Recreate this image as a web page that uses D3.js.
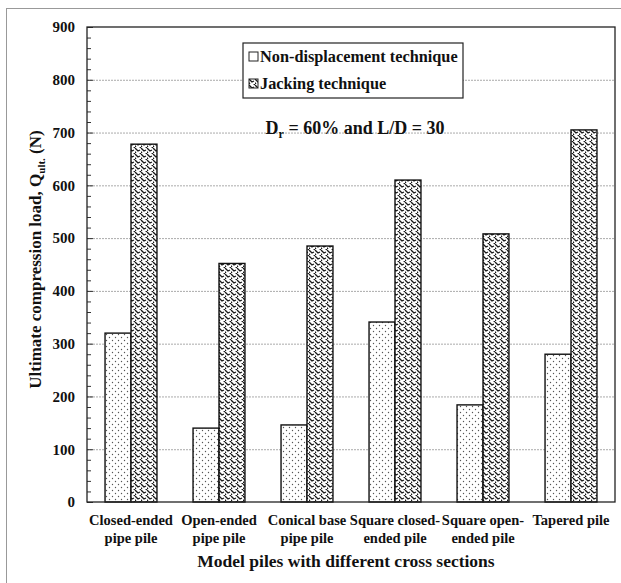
<!DOCTYPE html>
<html>
<head>
<meta charset="utf-8">
<script src="https://cdn.jsdelivr.net/npm/d3@7"></script>
<style>
  body { margin: 0; background: #fff; }
  text { font-family: "Liberation Serif", "Times New Roman", serif; font-weight: bold; fill: #111; }
</style>
</head>
<body>
<div id="chart"></div>
<script>
// Data
const categories = [
  ['Closed-ended', 'pipe pile'],
  ['Open-ended', 'pipe pile'],
  ['Conical base', 'pipe pile'],
  ['Square closed-', 'ended pile'],
  ['Square open-', 'ended pile'],
  ['Tapered pile']
];
const seriesNames = ['Non-displacement technique', 'Jacking technique'];
const nonDisplacement = [320, 140, 146, 341, 184, 280];
const jacking = [678, 452, 485, 610, 508, 705];
const yTicks = [0, 100, 200, 300, 400, 500, 600, 700, 800, 900];

const width = 621, height = 583;
const margin = { top: 27, right: 6, bottom: 81, left: 87 };
const plotW = width - margin.left - margin.right;
const plotH = height - margin.top - margin.bottom;

const svg = d3.select('#chart').append('svg')
  .attr('width', width)
  .attr('height', height);

// patterns
const defs = svg.append('defs');
const dots = defs.append('pattern')
  .attr('id', 'dots')
  .attr('patternUnits', 'userSpaceOnUse')
  .attr('width', 6).attr('height', 6);
dots.append('rect').attr('width', 6).attr('height', 6).attr('fill', '#fff');
dots.append('circle').attr('cx', 1.5).attr('cy', 1.5).attr('r', 0.7).attr('fill', '#555');
dots.append('circle').attr('cx', 4.5).attr('cy', 4.5).attr('r', 0.7).attr('fill', '#555');

const weave = defs.append('pattern')
  .attr('id', 'weave')
  .attr('patternUnits', 'userSpaceOnUse')
  .attr('width', 6).attr('height', 6);
weave.append('rect').attr('width', 6).attr('height', 6).attr('fill', '#fff');
weave.append('path')
  .attr('d', 'M0,1 L3,4 L5,3 M3,-2 L6,1 M-1,4 L1,6')
  .attr('stroke', '#1a1a1a')
  .attr('stroke-width', 1.3)
  .attr('fill', 'none');

// outer frame
svg.append('rect')
  .attr('x', 6.5).attr('y', 8.5)
  .attr('width', 700).attr('height', 700)
  .attr('fill', 'none')
  .attr('stroke', '#999')
  .attr('stroke-width', 1);

const g = svg.append('g')
  .attr('transform', `translate(${margin.left},${margin.top})`);

const x0 = d3.scaleBand()
  .domain(d3.range(categories.length))
  .range([0, plotW])
  .paddingInner(0.41)
  .paddingOuter(0.205);
const x1 = d3.scaleBand()
  .domain([0, 1])
  .range([0, x0.bandwidth()]);
const y = d3.scaleLinear().domain([0, 900]).range([plotH, 0]);

// grid lines
g.append('g')
  .selectAll('line')
  .data(yTicks.filter(t => t > 0 && t < 900))
  .enter().append('line')
  .attr('x1', 0).attr('x2', plotW)
  .attr('y1', d => y(d) + 0.5).attr('y2', d => y(d) + 0.5)
  .attr('stroke', '#aaa')
  .attr('stroke-width', 1)
  .attr('stroke-dasharray', '2,1');

// bars
const series = [nonDisplacement, jacking];
const fills = ['url(#dots)', 'url(#weave)'];
series.forEach((vals, si) => {
  g.append('g')
    .selectAll('rect')
    .data(vals)
    .enter().append('rect')
    .attr('x', (d, i) => x0(i) + x1(si))
    .attr('y', d => y(d))
    .attr('width', x1.bandwidth())
    .attr('height', d => plotH - y(d))
    .attr('fill', fills[si])
    .attr('stroke', '#111')
    .attr('stroke-width', 1.4);
});

// axis with minor ticks (inward)
const minor = d3.range(0, 901, 20).filter(v => v % 100 !== 0);
g.append('g')
  .call(d3.axisLeft(y).tickValues(minor).tickSize(-4).tickFormat(''))
  .call(a => a.select('.domain').remove())
  .selectAll('line').attr('stroke', '#333');
const yAxis = g.append('g')
  .call(d3.axisLeft(y).tickValues(yTicks).tickSize(-6).tickPadding(12));
yAxis.select('.domain').remove();
yAxis.selectAll('line').attr('stroke', '#333');
yAxis.selectAll('text')
  .attr('font-size', '15px')
  .style('font-family', '"Liberation Serif", serif')
  .style('font-weight', 'bold')
  .attr('fill', '#111');

// plot frame
g.append('rect')
  .attr('x', 0).attr('y', 0)
  .attr('width', plotW).attr('height', plotH)
  .attr('fill', 'none')
  .attr('stroke', '#222')
  .attr('stroke-width', 1.3);

// category labels
const catG = g.append('g');
categories.forEach((lines, i) => {
  const t = catG.append('text')
    .attr('x', x0(i) + x0.bandwidth() / 2)
    .attr('y', plotH + 23)
    .attr('text-anchor', 'middle')
    .attr('font-size', '14.5px');
  lines.forEach((ln, k) => {
    t.append('tspan')
      .attr('x', x0(i) + x0.bandwidth() / 2)
      .attr('dy', k === 0 ? 0 : 18)
      .text(ln);
  });
});

// x axis title
g.append('text')
  .attr('x', plotW / 2 - 5)
  .attr('y', plotH + 65)
  .attr('text-anchor', 'middle')
  .attr('font-size', '17.5px')
  .text('Model piles with different cross sections');

// y axis title
const yt = svg.append('text')
  .attr('transform', `translate(41,${margin.top + plotH / 2 - 5}) rotate(-90)`)
  .attr('text-anchor', 'middle')
  .attr('font-size', '17px');
yt.append('tspan').text('Ultimate compression load, Q');
yt.append('tspan').attr('font-size', '11px').attr('dy', 4).text('ult.');
yt.append('tspan').attr('dy', -4).text(' (N)');

// legend
const lg = svg.append('g').attr('transform', 'translate(243,43)');
lg.append('rect')
  .attr('width', 220).attr('height', 55)
  .attr('fill', '#fff')
  .attr('stroke', '#222')
  .attr('stroke-width', 1.2);
seriesNames.forEach((name, i) => {
  const row = lg.append('g').attr('transform', `translate(6,${14 + i * 27})`);
  row.append('rect')
    .attr('x', 0).attr('y', -5)
    .attr('width', 9).attr('height', 9)
    .attr('fill', i === 0 ? '#fff' : 'url(#weave)')
    .attr('stroke', '#222')
    .attr('stroke-width', 1);
  row.append('text')
    .attr('x', 11).attr('y', 5)
    .attr('font-size', '16.3px')
    .text(name);
});

// annotation
const ann = svg.append('text')
  .attr('x', 355).attr('y', 134)
  .attr('text-anchor', 'middle')
  .attr('font-size', '18px');
ann.append('tspan').text('D');
ann.append('tspan').attr('font-size', '12px').attr('dy', 4).text('r');
ann.append('tspan').attr('dy', -4).text(' = 60% and L/D = 30');
</script>
</body>
</html>
